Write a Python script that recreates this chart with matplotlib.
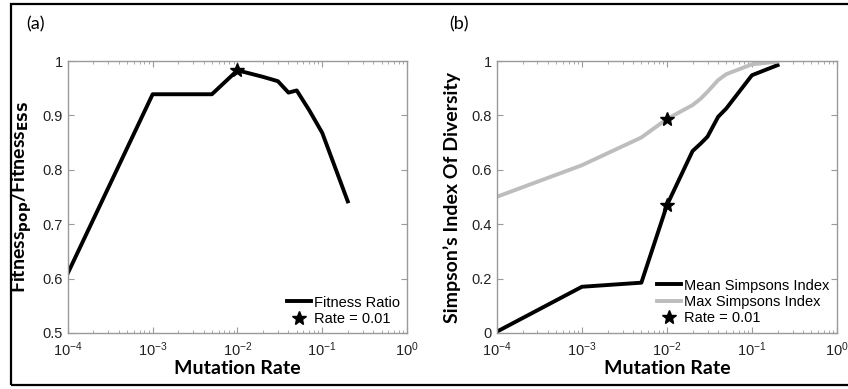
import numpy as np
import matplotlib.pyplot as plt
from matplotlib.patches import Rectangle
from matplotlib.ticker import LogLocator, NullFormatter

# panel (a)
rate_a = [1e-4, 1e-3, 5e-3, 1e-2, 2e-2, 3e-2, 4e-2, 5e-2, 7e-2, 1e-1, 2e-1]
fitness = [0.61, 0.939, 0.939, 0.983, 0.971, 0.963, 0.942, 0.946, 0.91, 0.868, 0.742]
star_a = (1e-2, 0.983)

# panel (b)
rate_b = [1e-4, 1e-3, 5e-3, 1e-2, 2e-2, 2.5e-2, 3e-2, 4e-2, 5e-2, 1e-1, 2e-1]
mean_simpson = [0.005, 0.17, 0.185, 0.47, 0.669, 0.697, 0.722, 0.795, 0.826, 0.948, 0.985]
max_simpson = [0.501, 0.617, 0.719, 0.787, 0.838, 0.862, 0.887, 0.930, 0.952, 0.988, 0.998]
star_b = [(1e-2, 0.787), (1e-2, 0.47)]

plt.rcParams['font.family'] = ['Liberation Sans', 'DejaVu Sans']
plt.rcParams['mathtext.fontset'] = 'custom'
plt.rcParams['mathtext.rm'] = 'Liberation Sans'
plt.rcParams['mathtext.it'] = 'Liberation Sans'

fig = plt.figure(figsize=(8.48, 3.89), dpi=100)
fig.patches.append(Rectangle((11/848, 4/389), 1.2, 381/389, transform=fig.transFigure,
                             fill=False, edgecolor='black', linewidth=1.6))

ax1 = fig.add_axes([0.080, 0.144, 0.400, 0.699])
ax2 = fig.add_axes([0.586, 0.144, 0.401, 0.699])

lab_font = dict(family='Lato', weight='bold', fontsize=14)


def style(ax):
    ax.set_xscale('log')
    ax.set_xlim(1e-4, 1)
    for s in ax.spines.values():
        s.set_color('#9a9a9a')
        s.set_linewidth(1.0)
    ax.xaxis.set_major_locator(LogLocator(base=10, numticks=10))
    ax.xaxis.set_minor_locator(LogLocator(base=10, subs=np.arange(2, 10), numticks=10))
    ax.xaxis.set_minor_formatter(NullFormatter())
    ax.tick_params(which='both', direction='in', top=True, right=True,
                   colors='#9a9a9a', labelcolor='#222222', labelsize=10.5)
    ax.tick_params(axis='x', which='major', pad=5)
    ax.tick_params(which='major', length=4)
    ax.tick_params(which='minor', length=2)
    ax.set_xlabel('Mutation Rate', labelpad=1, **lab_font)


style(ax1)
ax1.plot(rate_a, fitness, color='black', lw=2.8, label='Fitness Ratio')
ax1.plot(*star_a, linestyle='none', marker='*', ms=10, color='black', label='Rate = 0.01')
ax1.set_ylim(0.5, 1)
ax1.set_yticks([0.5, 0.6, 0.7, 0.8, 0.9, 1])
ax1.set_yticklabels(['0.5', '0.6', '0.7', '0.8', '0.9', '1'])
ax1.set_ylabel(r'Fitness$_{\mathbf{pop}}$/Fitness$_{\mathbf{ESS}}$', **lab_font)
ax1.yaxis.set_label_coords(-0.1, 0.5)
ax1.legend(loc='lower right', frameon=False, fontsize=10.5, handlelength=1.6,
           handletextpad=0.2, labelspacing=0.15, borderaxespad=0.1)

style(ax2)
ax2.plot(rate_b, mean_simpson, color='black', lw=2.8, label='Mean Simpsons Index')
ax2.plot(rate_b, max_simpson, color='#bdbdbd', lw=2.8, label='Max Simpsons Index')
ax2.plot([p[0] for p in star_b], [p[1] for p in star_b], linestyle='none', marker='*',
         ms=10, color='black', label='Rate = 0.01')
ax2.set_ylim(0, 1)
ax2.set_yticks([0, 0.2, 0.4, 0.6, 0.8, 1])
ax2.set_yticklabels(['0', '0.2', '0.4', '0.6', '0.8', '1'])
ax2.set_ylabel('Simpson\u2019s Index Of Diversity', **lab_font)
ax2.yaxis.set_label_coords(-0.105, 0.5)
ax2.legend(loc='lower right', frameon=False, fontsize=10.5, handlelength=1.6,
           handletextpad=0.2, labelspacing=0.15, borderaxespad=0.15)

fig.text(26/848, 1 - 24/389, '(a)', family='Lato', fontsize=13, va='center')
fig.text(449/848, 1 - 24/389, '(b)', family='Lato', fontsize=13, va='center')

fig.savefig('out.png', dpi=100)
